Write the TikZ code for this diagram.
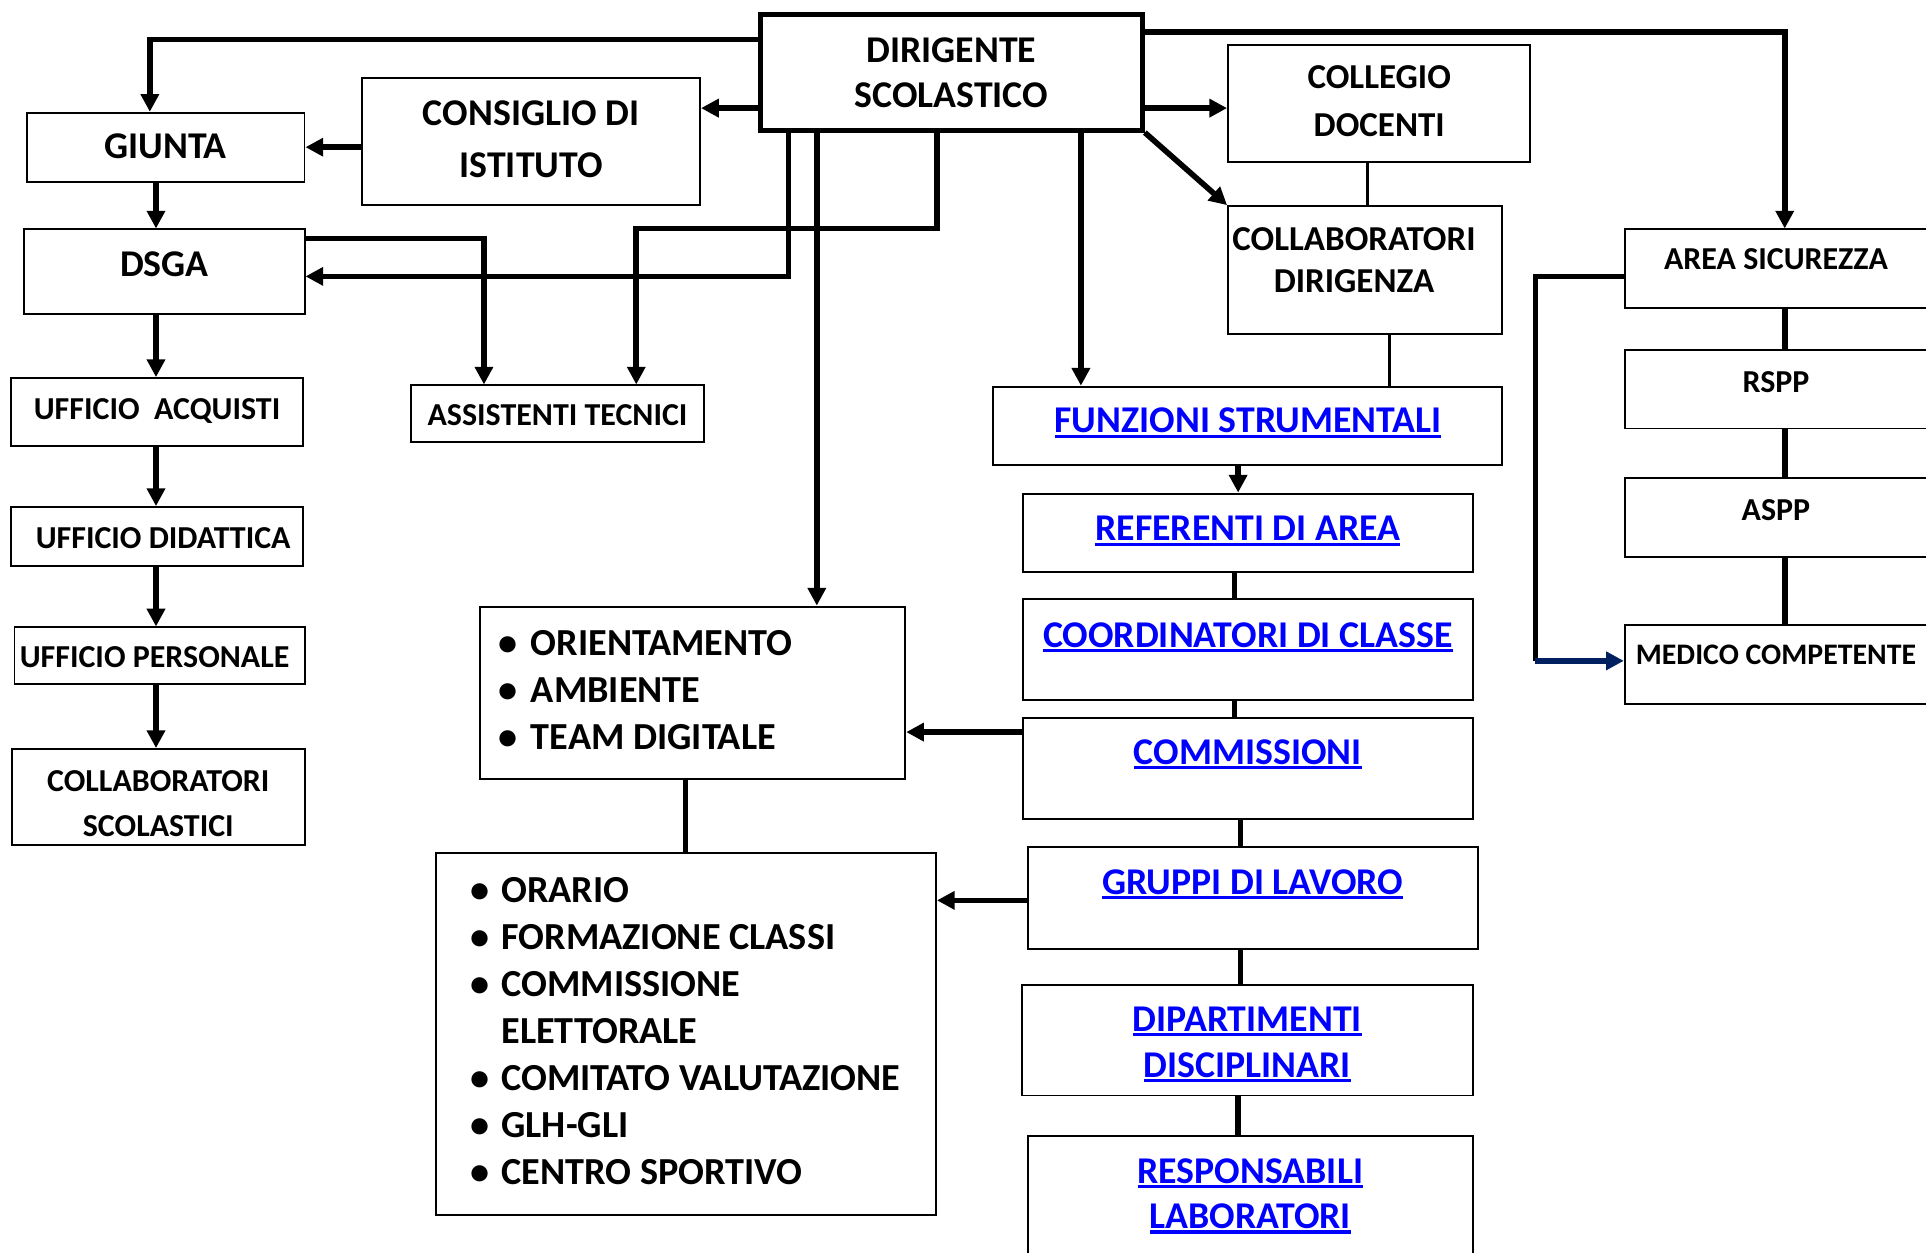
\documentclass[tikz,border=0pt]{standalone}
\usepackage{fontspec}
\setmainfont{Carlito}
\usetikzlibrary{arrows.meta}

\definecolor{linkblu}{HTML}{0000FF}
\definecolor{navy}{HTML}{002060}

\newcommand{\duerighe}[3][0pt]{\begin{tabular}[t]{@{}c@{}}#2\\[#1]#3\end{tabular}}
\newcommand{\punto}{\makebox[0pt]{\textbullet}}
\newsavebox{\sottobox}
\newcommand{\sotto}[1]{\sbox{\sottobox}{#1}\rlap{\rule[-1.1pt]{\wd\sottobox}{0.7pt}}\usebox{\sottobox}}

\begin{document}
\begin{tikzpicture}[x=0.01cm, y=-0.01cm,
	casella/.style={draw, line width=0.45pt, rectangle, inner sep=0pt, anchor=north west,
		font=\bfseries\fontsize{8.75}{10.5}\selectfont},
	media/.style={font=\bfseries\fontsize{8.1}{10.5}\selectfont},
	piccola/.style={font=\bfseries\fontsize{7.4}{8.5}\selectfont},
	elenco/.style={font=\bfseries\fontsize{8.85}{10.9}\selectfont},
	link/.style={text=linkblu},
	freccia/.style={line width=1.3pt, -{Triangle[length=4.1pt, width=4.1pt]}},
	linea/.style={line width=1.3pt},
	filo/.style={line width=0.65pt}]

	\useasboundingbox (0,0) rectangle (1568,1020);

% Dirigenza e organi collegiali
	\node[casella, line width=1.1pt, minimum width=3.11cm, text height=0.389cm, text depth=0.551cm] (dir) at (617,10) {\duerighe{DIRIGENTE}{SCOLASTICO}};
	\node[casella, minimum width=2.75cm, text height=0.386cm, text depth=0.644cm] (cons) at (294,63) {\duerighe[1.45pt]{CONSIGLIO DI}{ISTITUTO}};
	\node[casella, media, minimum width=2.46cm, text height=0.35cm, text depth=0.60cm] (colleg) at (999,36) {\duerighe[0.74pt]{COLLEGIO}{DOCENTI}};
	\node[casella, media, minimum width=2.23cm, text height=0.358cm, text depth=0.682cm] (cdir) at (999,167) {\hspace*{-0.18cm}\duerighe[-0.66pt]{COLLABORATORI}{DIRIGENZA}};

% Area amministrativa
	\node[casella, minimum width=2.26cm, text height=0.373cm, text depth=0.187cm] (giunta) at (21,91) {GIUNTA};
	\node[casella, minimum width=2.28cm, text height=0.386cm, text depth=0.304cm] (dsga) at (19,186) {DSGA};
	\node[casella, piccola, minimum width=2.38cm, text height=0.338cm, text depth=0.212cm] (ua) at (8,307) {UFFICIO\ \ ACQUISTI};
	\node[casella, piccola, minimum width=2.38cm, text height=0.338cm, text depth=0.142cm] (ud) at (8,412) {\hspace*{0.1cm}UFFICIO DIDATTICA};
	\node[casella, piccola, minimum width=2.36cm, text height=0.328cm, text depth=0.132cm] (up) at (11,510) {UFFICIO PERSONALE\hspace*{0.08cm}};
	\node[casella, piccola, minimum width=2.38cm, text height=0.348cm, text depth=0.432cm] (cs) at (9,609) {\duerighe[1.9pt]{COLLABORATORI}{SCOLASTICI}};
	\node[casella, piccola, minimum width=2.38cm, text height=0.328cm, text depth=0.132cm] (ast) at (334,313) {ASSISTENTI TECNICI};

% Area didattica
	\node[casella, link, minimum width=4.14cm, text height=0.376cm, text depth=0.264cm] (funz) at (808,314) {\sotto{FUNZIONI STRUMENTALI}};
	\node[casella, link, minimum width=3.66cm, text height=0.386cm, text depth=0.254cm] (ref) at (832,401) {\sotto{REFERENTI DI AREA}};
	\node[casella, link, minimum width=3.66cm, text height=0.391cm, text depth=0.429cm] (coord) at (832,487) {\sotto{COORDINATORI DI CLASSE}};
	\node[casella, link, minimum width=3.66cm, text height=0.376cm, text depth=0.444cm] (comm) at (832,584) {\sotto{COMMISSIONI}};
	\node[casella, link, minimum width=3.66cm, text height=0.386cm, text depth=0.444cm] (grup) at (836,689) {\sotto{GRUPPI DI LAVORO}};
	\node[casella, link, minimum width=3.67cm, text height=0.376cm, text depth=0.524cm] (dip) at (831,801) {\duerighe[0.3pt]{\sotto{DIPARTIMENTI}}{\sotto{DISCIPLINARI}}};
	\node[casella, link, minimum width=3.62cm, text height=0.386cm, text depth=0.714cm] (resp) at (836,924) {\duerighe{\sotto{RESPONSABILI}}{\sotto{LABORATORI}}};

	\node[casella, elenco, minimum width=3.46cm, text height=0.396cm, text depth=1.004cm] (orient) at (390,493) {%
		\begin{tabular}[t]{@{\hspace{0.23cm}}c@{\hspace{0.184cm}}p{3.046cm}@{}}
		\punto & ORIENTAMENTO\\
		\punto & AMBIENTE\\
		\punto & TEAM DIGITALE
		\end{tabular}};
	\node[casella, elenco, minimum width=4.07cm, text height=0.396cm, text depth=2.544cm] (lista) at (354,694) {%
		\begin{tabular}[t]{@{\hspace{0.357cm}}c@{\hspace{0.177cm}}p{3.536cm}@{}}
		\punto & ORARIO\\
		\punto & FORMAZIONE CLASSI\\
		\punto & COMMISSIONE\\
		       & ELETTORALE\\
		\punto & COMITATO VALUTAZIONE\\
		\punto & GLH-GLI\\
		\punto & CENTRO SPORTIVO
		\end{tabular}};

% Sicurezza
	\node[casella, piccola, minimum width=2.46cm, text height=0.328cm, text depth=0.312cm] (sic) at (1322,186) {AREA SICUREZZA};
	\node[casella, piccola, minimum width=2.46cm, text height=0.346cm, text depth=0.294cm] (rspp) at (1322,284) {RSPP};
	\node[casella, piccola, minimum width=2.46cm, text height=0.351cm, text depth=0.299cm] (aspp) at (1322,388) {ASPP};
	\node[casella, piccola, font=\bfseries\fontsize{6.9}{8.5}\selectfont, minimum width=2.46cm, text height=0.323cm, text depth=0.317cm] (medico) at (1322,508) {MEDICO COMPETENTE};

% Collegamenti dal dirigente
	\draw[freccia] (dir.west |- 0,32) -| (giunta.north -| 122,0);
	\draw[freccia] (dir.west |- 0,88) -- (cons.east |- 0,88);
	\draw[freccia] (dir.south -| 642,0) |- (dsga.east |- 0,225);
	\draw[freccia] (dir.south -| 763,0) |- (518,186) -- (ast.north -| 518,0);
	\draw[freccia] (dir.south -| 665,0) -- (orient.north -| 665,0);
	\draw[freccia] (dir.south -| 880,0) -- (funz.north -| 880,0);
	\draw[freccia] (dir.east |- 0,88) -- (colleg.west |- 0,88);
	\draw[freccia] (dir.south east) -- (cdir.north west);
	\draw[freccia] (dir.east |- 0,26) -| (sic.north -| 1453,0);

% Catena amministrativa
	\draw[freccia] (cons.west |- giunta.east) -- (giunta.east);
	\foreach \a/\b in {giunta/dsga, dsga/ua, ua/ud, ud/up, up/cs}
		\draw[freccia] (\a.south -| 127,0) -- (\b.north -| 127,0);
	\draw[freccia] (dsga.east |- 0,194) -| (ast.north -| 394,0);

% Catena didattica
	\draw[filo] (colleg.south -| 1113,0) -- (cdir.north -| 1113,0);
	\draw[filo] (cdir.south -| 1131,0) -- (funz.north -| 1131,0);
	\draw[freccia] (funz.south -| 1008,0) -- (ref.north -| 1008,0);
	\foreach \a/\b/\x in {ref/coord/1005, coord/comm/1005, comm/grup/1010, grup/dip/1010, dip/resp/1008}
		\draw[linea] (\a.south -| \x,0) -- (\b.north -| \x,0);
	\draw[freccia] (comm.west |- 0,596) -- (orient.east |- 0,596);
	\draw[freccia] (grup.west |- 0,733) -- (lista.east |- 0,733);
	\draw[linea] (orient.south -| 558,0) -- (lista.north -| 558,0);

% Catena sicurezza
	\foreach \a/\b in {sic/rspp, rspp/aspp, aspp/medico}
		\draw[linea] (\a.south -| 1453,0) -- (\b.north -| 1453,0);
	\coordinate (gomito) at (1250,538);
	\draw[linea] (sic.west |- 0,225) -| (gomito);
	\draw[freccia, navy] (gomito) -- (medico.west |- gomito);

\end{tikzpicture}
\end{document}
